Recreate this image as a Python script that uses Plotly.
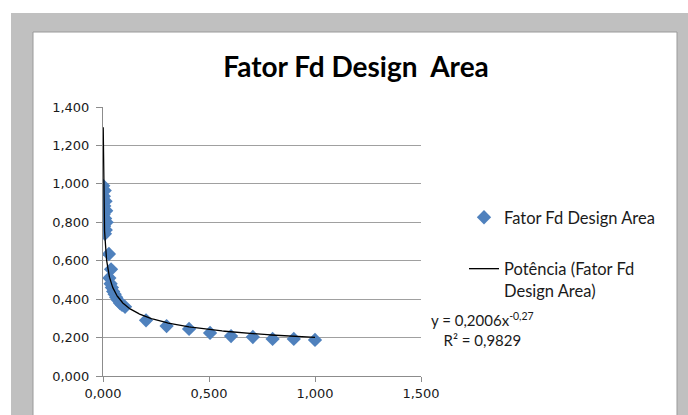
import numpy as np
import plotly.graph_objects as go

# ---- data ----
x_vals = [0.001, 0.008, 0.004, 0.012, 0.006, 0.015, 0.003, 0.010, 0.017, 0.005, 0.013, 0.009,
          0.028, 0.038, 0.030, 0.036, 0.042, 0.048, 0.055, 0.062, 0.070, 0.080, 0.090, 0.104,
          0.203, 0.300, 0.406, 0.505, 0.604, 0.707, 0.800, 0.900, 1.000]
y_vals = [0.990, 0.965, 0.935, 0.910, 0.885, 0.860, 0.840, 0.820, 0.800, 0.780, 0.760, 0.740,
          0.635, 0.555, 0.510, 0.480, 0.460, 0.440, 0.425, 0.410, 0.395, 0.380, 0.370, 0.360,
          0.290, 0.260, 0.245, 0.224, 0.208, 0.203, 0.193, 0.193, 0.188]
fit_a = 0.2006
fit_b = -0.27
fit_r2 = 0.9829
fit_x_range = [0.001, 1.0]
y_ticks = [0.0, 0.2, 0.4, 0.6, 0.8, 1.0, 1.2, 1.4]
x_ticks = [0.0, 0.5, 1.0, 1.5]

W, H = 688, 415
L, R, T, B = 103, 421, 107, 376


def px(v):
    return (v - L) / (R - L)


def py(v):
    return (B - v) / (B - T)


fx = np.geomspace(fit_x_range[0], fit_x_range[1], 300)
fy = fit_a * fx ** fit_b

fig = go.Figure()
fig.add_trace(go.Scatter(
    x=x_vals, y=y_vals, mode="markers", name="Fator Fd Design Area",
    marker=dict(symbol="diamond", size=11, color="#4f81bd"), legendgroup="a"))
fig.add_trace(go.Scatter(
    x=fx, y=fy, mode="lines", name="Potência (Fator Fd<br>Design Area)",
    line=dict(color="black", width=1.3), legendgroup="b"))

fig.update_layout(
    width=W, height=H,
    margin=dict(l=L, r=W - R, t=T, b=H - B),
    paper_bgcolor="white", plot_bgcolor="rgba(0,0,0,0)",
    separators=",.",
    title=dict(text="<b>Fator Fd Design  Area</b>", x=356 / W, xanchor="center",
               y=1 - 67 / H, yanchor="middle",
               font=dict(family="Lato", size=28, color="black")),
    xaxis=dict(range=[0, 1.5], tickvals=x_ticks, tickformat=".3f", showgrid=False,
               zeroline=False, showline=True, linecolor="#8c8c8c", linewidth=1,
               ticks="outside", ticklen=5, tickcolor="#8c8c8c",
               tickfont=dict(family="DejaVu Sans", size=13, color="#1a1a1a")),
    yaxis=dict(range=[0, 1.4], tickvals=y_ticks, tickformat=".3f", showgrid=True,
               gridcolor="#a0a0a0", gridwidth=1,
               zeroline=False, showline=True, linecolor="#8c8c8c", linewidth=1,
               ticks="outside", ticklen=6, tickcolor="#8c8c8c", ticklabelstandoff=4,
               tickfont=dict(family="DejaVu Sans", size=13, color="#1a1a1a")),
    legend=dict(x=px(464), y=py(200), xanchor="left", yanchor="top",
                font=dict(family="Lato", size=16.5, color="#1a1a1a"),
                tracegroupgap=27, valign="top", bgcolor="rgba(0,0,0,0)"),
    shapes=[
        dict(type="rect", xref="paper", yref="paper", layer="below",
             x0=px(11), x1=px(700), y0=py(430), y1=py(13),
             fillcolor="#c0c0c0", line=dict(width=0)),
        dict(type="rect", xref="paper", yref="paper", layer="below",
             x0=px(33), x1=px(677), y0=py(430), y1=py(32),
             fillcolor="white", line=dict(color="#9a9a9a", width=1)),
    ],
    annotations=[
        dict(text="y = 0,2006x<sup>-0,27</sup><br>R² = 0,9829", xref="paper", yref="paper",
             x=px(482), y=py(329), xanchor="center", yanchor="middle", showarrow=False,
             align="center", font=dict(family="Lato", size=15, color="#1a1a1a")),
    ],
)

fig.write_html("out.html", config={"displayModeBar": False},
               post_script="document.body.style.margin='0';document.body.style.padding='0';")
